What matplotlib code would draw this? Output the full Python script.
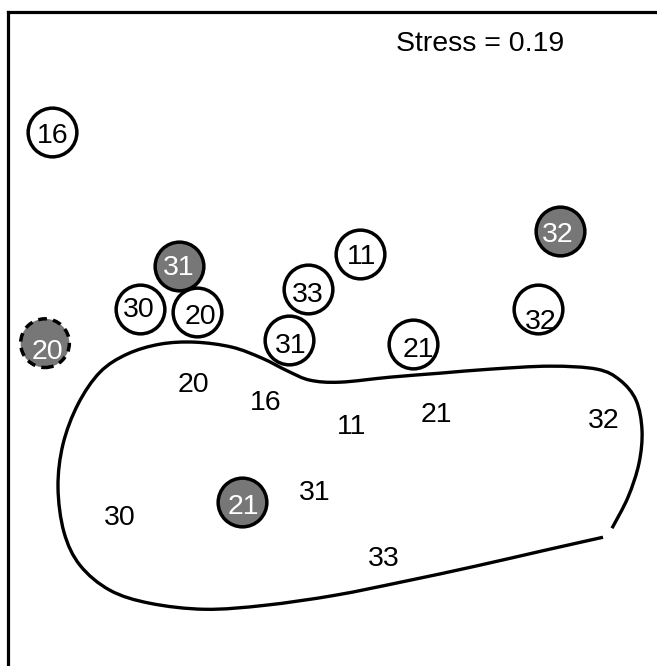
import numpy as np
import matplotlib
matplotlib.use("Agg")
import matplotlib.pyplot as plt
from matplotlib.path import Path
from matplotlib.patches import PathPatch

plt.rcParams['font.family'] = ['Liberation Sans', 'DejaVu Sans']

# --- ordination points drawn inside circles (pixel-like ordination units, y down) ---
circ_x = [52, 45, 179, 140, 197, 308, 360, 289, 413, 560, 538, 242]
circ_y = [132, 343, 266, 309, 312, 289, 254, 340, 344, 231, 309, 502]
circ_lab = ['16', '20', '31', '30', '20', '33', '11', '31', '21', '32', '32', '21']
circ_grey = [False, True, True, False, False, False, False, False, False, True, False, True]
circ_dash = [False, True, False, False, False, False, False, False, False, False, False, False]
lab_x = [53, 47, 179, 139, 200, 308, 362, 291, 418, 558, 541, 243]
lab_y = [136, 352, 268, 310, 317, 295, 257, 346, 350, 235, 322, 507]

# --- points without circles ---
free_x = [193, 266, 352, 436, 604, 120, 315, 384]
free_y = [385, 403, 427, 415, 421, 518, 493, 559]
free_lab = ['20', '16', '11', '21', '32', '30', '31', '33']

# --- hand-drawn outline (open at lower right) ---
hull_x = [612, 628, 639, 642, 636, 620, 597, 550, 490, 440, 390, 340, 310, 288, 262, 232, 195,
          160, 127, 100, 78, 63, 58, 64, 80, 110, 150, 205, 265, 335, 405, 475, 545, 603]
hull_y = [528, 497, 463, 430, 400, 380, 369, 366, 369, 373, 377, 382, 380, 371, 358, 347, 342,
          344, 354, 372, 404, 444, 487, 532, 565, 590, 603, 609, 605, 595, 581, 566, 550, 537]

stress = 0.19

fig = plt.figure(figsize=(6.57, 6.66), dpi=100)
ax = fig.add_axes([8 / 657, -0.02, 1.0, (666 - 12) / 666 + 0.02])
ax.set_xlim(8, 8 + 657)
ax.set_ylim(666 + 13, 12)
ax.set_aspect('equal', adjustable='datalim')
ax.set_xticks([]); ax.set_yticks([])
for s in ['right', 'bottom']:
    ax.spines[s].set_visible(False)
for s in ['left', 'top']:
    ax.spines[s].set_linewidth(2.3)

# smooth outline via Catmull-Rom -> cubic Bezier
P = np.column_stack([hull_x, hull_y]).astype(float)
Pe = np.vstack([P[0], P, P[-1]])
verts = [tuple(P[0])]; codes = [Path.MOVETO]
for i in range(1, len(Pe) - 2):
    p0, p1, p2, p3 = Pe[i - 1], Pe[i], Pe[i + 1], Pe[i + 2]
    verts += [tuple(p1 + (p2 - p0) / 6), tuple(p2 - (p3 - p1) / 6), tuple(p2)]
    codes += [Path.CURVE4] * 3
ax.add_patch(PathPatch(Path(verts, codes), fill=False, lw=2.4, ec='black', capstyle='butt'))

for x, y, g, d in zip(circ_x, circ_y, circ_grey, circ_dash):
    ax.scatter([x], [y], s=1230, facecolor='#777777' if g else 'white', edgecolor='black',
               linewidths=2.5, linestyle=(0, (2.5, 1.8)) if d else '-', zorder=3)
for x, y, t, g in zip(lab_x, lab_y, circ_lab, circ_grey):
    ax.text(x, y, t, ha='center', va='center', fontsize=20.5, color='white' if g else 'black', zorder=4)
for x, y, t in zip(free_x, free_y, free_lab):
    ax.text(x, y, t, ha='center', va='center', fontsize=20.5, color='black')

ax.text(480, 44, f"Stress = {stress}", ha='center', va='center', fontsize=20.5)

fig.savefig("out.png", dpi=100)
